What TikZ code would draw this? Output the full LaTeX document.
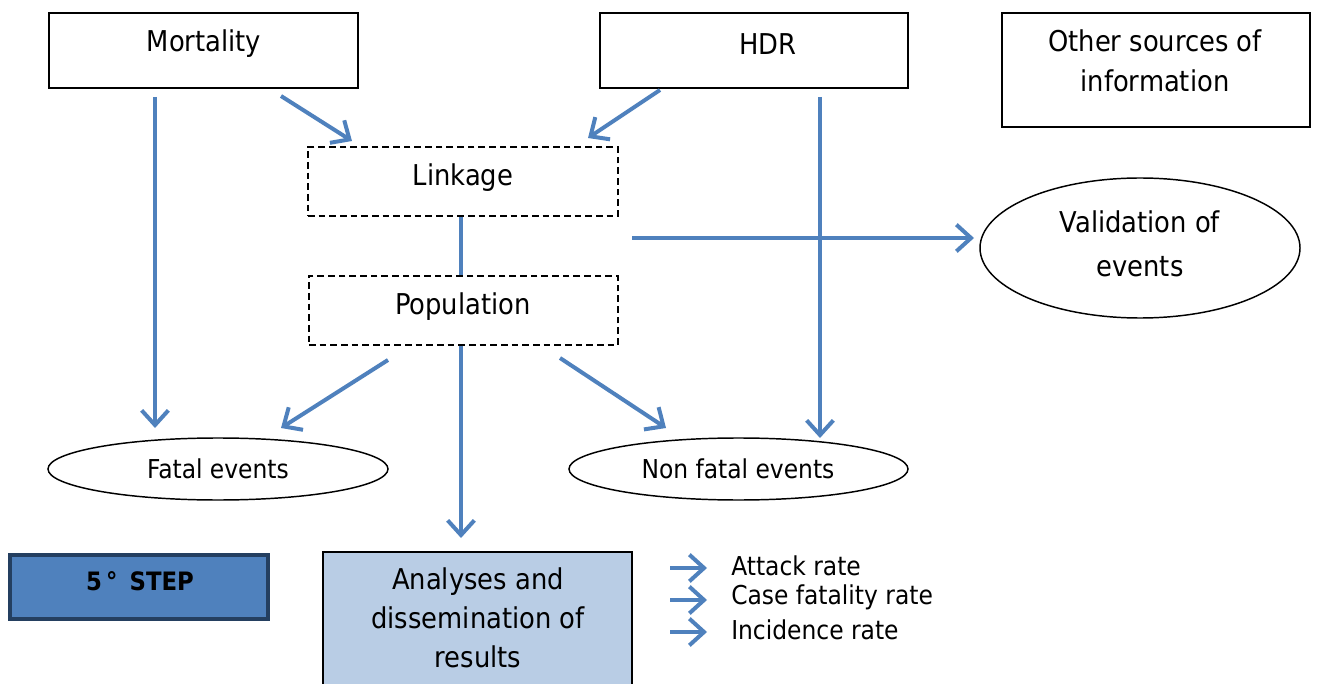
\documentclass[tikz,border=0pt]{standalone}
\usepackage{fontspec}
\setmainfont{DejaVu Sans Condensed}
\usetikzlibrary{arrows.meta,shapes.geometric}
\definecolor{arrowblue}{HTML}{4F81BD}
\definecolor{stepfill}{HTML}{4F81BD}
\definecolor{stepborder}{HTML}{243F60}
\definecolor{resfill}{HTML}{B9CDE5}
\tikzset{
  dashbox/.style={draw=black, dash pattern=on 5pt off 3pt, line width=1.1pt, inner sep=0pt},
  evt/.style={draw=black, ellipse, line width=1.1pt, inner sep=0pt},
  conn/.style={draw=arrowblue, line width=3pt, -{Straight Barb[length=11pt,width=20pt,line width=3pt]}},
  plainconn/.style={draw=arrowblue, line width=3pt},
  txt/.style={font=\fontsize{21.5}{26}\selectfont, align=center, inner sep=0pt},
  smalltxt/.style={font=\fontsize{19.5}{23}\selectfont, inner sep=0pt},
}
\begin{document}
\begin{tikzpicture}[x=0.75pt, y=-0.75pt]
\useasboundingbox (0,0) rectangle (1317,684);
% source boxes
\node[draw=black, line width=1.1pt, minimum width=231.75pt, minimum height=56.25pt, inner sep=0pt] (mort) at (203.5,50.5) {};
\node[txt] (morttxt) at (204,44) {Mortality};
\node[draw=black, line width=1.1pt, minimum width=231pt, minimum height=56.25pt, inner sep=0pt] (hdr) at (754,50.5) {};
\node[txt] (hdrtxt) at (768,44) {HDR};
\node[draw=black, line width=1.1pt, minimum width=231pt, minimum height=85.5pt, inner sep=0pt] (other) at (1156,70) {};
\node[txt, font=\fontsize{21.5}{30}\selectfont] (othertxt) at (1155,61) {Other sources of\\information};
% dashed boxes
\node[dashbox, minimum width=232.5pt, minimum height=51.75pt] (link) at (463,181.5) {};
\node[txt] (linktxt) at (463,178) {Linkage};
\node[dashbox, minimum width=231.75pt, minimum height=51.75pt] (pop) at (463.5,310.5) {};
\node[txt] (poptxt) at (463,307) {Population};
% ellipses
\node[evt, minimum width=240pt, minimum height=105pt] (valid) at (1140,248) {};
\node[txt, font=\fontsize{21.5}{33}\selectfont] (validtxt) at (1140,244) {Validation of\\events};
\node[evt, minimum width=255pt, minimum height=46.5pt] (fatal) at (218,469) {};
\node[smalltxt] (fataltxt) at (218,469) {Fatal events};
\node[evt, minimum width=254.25pt, minimum height=46.5pt] (nonfatal) at (738.5,469) {};
\node[smalltxt] (nonfataltxt) at (738,469) {Non fatal events};
% step box
\node[draw=stepborder, fill=stepfill, line width=3pt, minimum width=193.5pt, minimum height=48pt, inner sep=0pt] (step) at (138.5,586.5) {};
\node[txt, font=\bfseries\fontsize{19}{22}\selectfont] (steptxt) at (140,581) {5\,°\, STEP};
% results box
\draw[fill=resfill, draw=black, line width=1.1pt] (323,552) rectangle (632,700);
\node[txt, font=\fontsize{21.5}{29.25}\selectfont] (restxt) at (478,618) {Analyses and\\dissemination of\\results};
% legend
\coordinate (l1a) at (670,568); \coordinate (l1b) at (707,568);
\coordinate (l2a) at (670,600); \coordinate (l2b) at (707,600);
\coordinate (l3a) at (670,632); \coordinate (l3b) at (707,632);
\draw[conn] (l1a) -- (l1b);
\draw[conn] (l2a) -- (l2b);
\draw[conn] (l3a) -- (l3b);
\node[smalltxt, anchor=west] (lt1) at (731,566) {Attack rate};
\node[smalltxt, anchor=west] (lt2) at (731,597) {Case fatality rate};
\node[smalltxt, anchor=west] (lt3) at (731,630) {Incidence rate};
% connector coordinates
\coordinate (m1) at (155,97);  \coordinate (m1e) at (155,428);
\coordinate (m2) at (281,96);  \coordinate (m2e) at (352,141);
\coordinate (h1) at (660,90);  \coordinate (h1e) at (588,138);
\coordinate (h2) at (820,97);  \coordinate (h2e) at (820,438);
\coordinate (va) at (632,238); \coordinate (vae) at (974,238);
\coordinate (p1) at (388,360); \coordinate (p1e) at (281,428);
\coordinate (p2) at (461,345); \coordinate (p2e) at (461,538);
\coordinate (p3) at (560,358); \coordinate (p3e) at (666,428);
\draw[conn] (m1) -- (m1e);
\draw[conn] (m2) -- (m2e);
\draw[conn] (h1) -- (h1e);
\draw[conn] (h2) -- (h2e);
\draw[conn] (va) -- (vae);
\draw[plainconn] (link.south -| p2) -- (pop.north -| p2);
\draw[conn] (p1) -- (p1e);
\draw[conn] (pop.south -| p2) -- (p2e);
\draw[conn] (p3) -- (p3e);
\end{tikzpicture}
\end{document}
